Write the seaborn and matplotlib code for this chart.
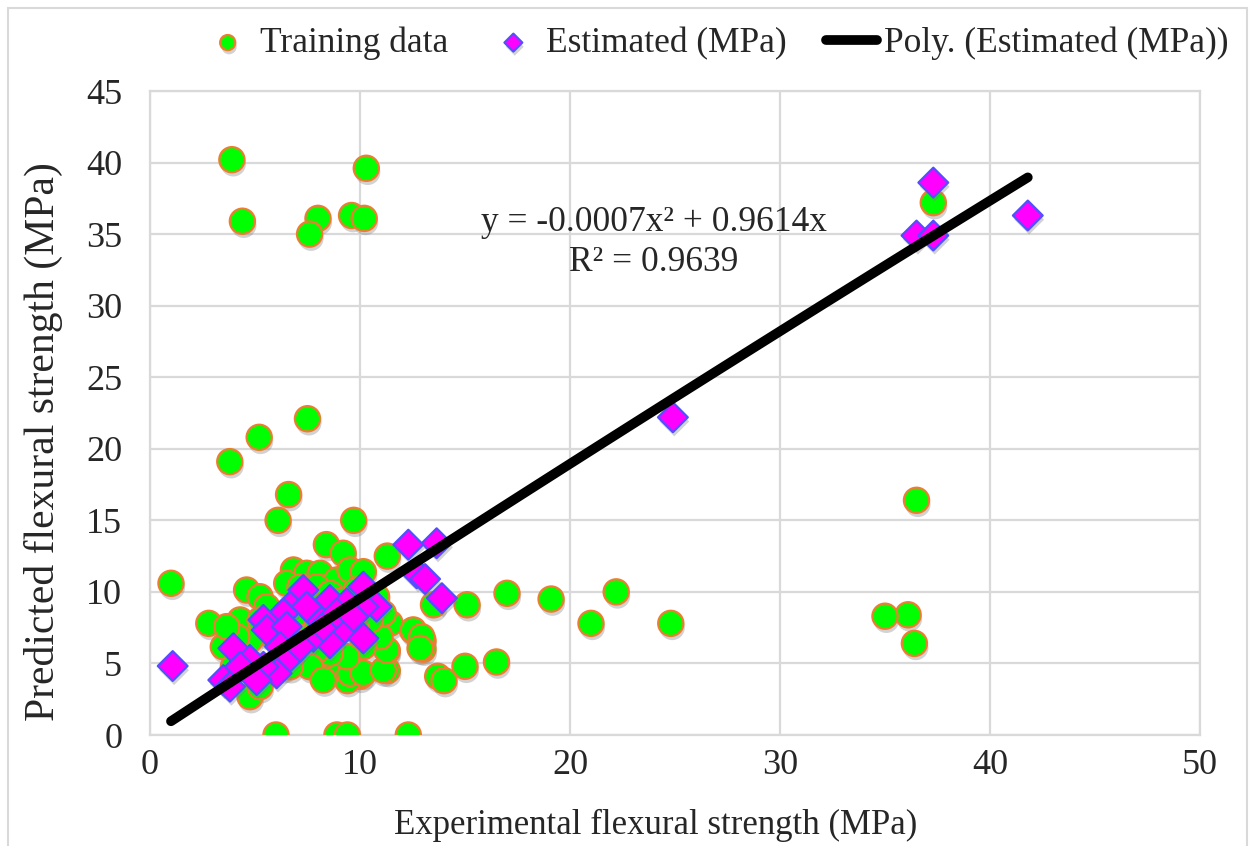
import numpy as np
import pandas as pd
import matplotlib
matplotlib.use("Agg")
import matplotlib.pyplot as plt
import matplotlib.patheffects as pe
from matplotlib.patches import Rectangle
import seaborn as sns

# training data (experimental, predicted)
train_x = [3.9, 4.4, 8.0, 7.6, 9.6, 10.2, 10.3, 37.3,
           7.5, 5.2, 3.8, 6.6, 6.1, 9.7, 8.4, 9.2, 11.3, 36.5,
           1.0, 2.8, 21.0, 24.8, 22.2, 19.1, 17.0, 15.1, 15.0, 16.5,
           13.7, 14.0, 13.0, 13.0, 12.5, 11.3, 11.3, 10.0, 9.4, 13.5,
           6.0, 8.9, 9.4, 12.3, 36.1, 35.0, 36.4,
           6.83, 7.46, 8.10, 8.89, 9.52, 10.16, 4.60, 5.24, 6.51, 7.14,
           7.94, 5.56, 4.29, 3.49, 3.97, 4.76, 8.89, 9.52, 10.16, 11.11,
           11.27, 11.43, 10.95, 10.16, 9.37, 8.57, 7.94, 7.62, 6.67, 5.56,
           4.76, 4.13, 12.54, 12.94, 12.86, 8.57, 9.21, 9.84, 10.79, 11.11,
           6.19, 6.98, 3.65, 5.24, 6.35, 5.24, 7.62, 8.25, 10.48, 9.84,
           8.89, 7.94, 6.67]
train_y = [40.2, 35.9, 36.1, 35.0, 36.3, 36.1, 39.6, 37.2,
           22.1, 20.8, 19.1, 16.8, 15.0, 15.0, 13.3, 12.7, 12.5, 16.4,
           10.6, 7.8, 7.8, 7.8, 10.0, 9.5, 9.9, 9.1, 4.8, 5.1,
           4.1, 3.8, 6.6, 6.0, 7.3, 4.5, 5.9, 4.1, 3.8, 9.1,
           0.0, 0.0, 0.0, 0.0, 8.4, 8.3, 6.4,
           11.53, 11.30, 11.30, 10.83, 11.53, 11.41, 10.13, 9.66, 10.60, 10.36,
           10.36, 8.97, 8.04, 6.17, 4.77, 2.68, 4.77, 4.31, 4.31, 4.54,
           5.94, 7.81, 6.87, 6.17, 5.47, 5.71, 5.94, 6.87, 6.87, 7.11,
           6.64, 6.87, 7.34, 6.87, 6.06, 9.90, 9.43, 10.13, 9.66, 8.50,
           8.04, 8.50, 7.57, 8.04, 4.77, 3.38, 4.77, 3.84, 8.04, 7.34,
           7.57, 8.04, 4.77]

# estimated values (experimental, estimated)
est_x = [1.08, 12.3, 13.65, 12.7, 13.1, 13.9, 3.97, 3.49, 3.81,
         7.30, 6.67, 6.35, 5.40, 5.56, 6.51, 8.57, 9.37, 10.16, 10.79,
         10.16, 9.21, 10.16, 8.57, 7.78, 7.94, 7.46, 6.19, 6.03, 5.40,
         5.08, 4.76, 4.29, 6.67, 7.14, 8.25, 8.89, 9.68,
         24.9, 37.3, 36.5, 37.3, 41.8]
est_y = [4.82, 13.3, 13.4, 11.3, 10.9, 9.56, 6.06, 3.84, 3.38,
         10.13, 8.97, 8.50, 8.04, 7.34, 7.57, 9.43, 9.20, 10.36, 8.97,
         8.97, 7.34, 6.75, 6.41, 6.87, 8.27, 8.97, 6.17, 4.31, 4.77,
         3.84, 5.24, 4.77, 5.47, 6.17, 7.57, 8.50, 8.27,
         22.2, 38.6, 34.9, 34.9, 36.3]

# polynomial trendline y = a*x^2 + b*x
poly_a = -0.0007
poly_b = 0.9614
r2 = 0.9639
fit_range = (1.0, 41.8)

train = pd.DataFrame({"x": train_x, "y": train_y})
est = pd.DataFrame({"x": est_x, "y": est_y})
fit_x = np.linspace(fit_range[0], fit_range[1], 60)
fit = pd.DataFrame({"x": fit_x, "y": poly_a * fit_x ** 2 + poly_b * fit_x})

sns.set_style("white")
plt.rcParams["font.family"] = ["Liberation Serif", "DejaVu Serif"]

fig = plt.figure(figsize=(12.55, 8.46), dpi=100)
ax = fig.add_axes([150 / 1255, 1 - 735 / 846, 1050 / 1255, 644 / 846])

shadow = [pe.SimplePatchShadow(offset=(1, -3), shadow_rgbFace="gray", alpha=0.35), pe.Normal()]

sns.scatterplot(data=train, x="x", y="y", ax=ax, marker="o", s=330,
                color="#00ff00", edgecolor="#ed7d31", linewidth=1.6,
                label="Training data", zorder=3)
sns.scatterplot(data=est, x="x", y="y", ax=ax, marker="D", s=230,
                color="#ff00ff", edgecolor="#5050ff", linewidth=1.6,
                label="Estimated (MPa)", zorder=4)
for coll in ax.collections:
    coll.set_path_effects(shadow)
sns.lineplot(data=fit, x="x", y="y", ax=ax, color="black", linewidth=7,
             solid_capstyle="round", label="Poly. (Estimated (MPa))", zorder=5)

ax.set_xlim(0, 50)
ax.set_ylim(0, 45)
ax.set_xticks(range(0, 51, 10))
ax.set_yticks(range(0, 46, 5))
ax.grid(True, color="#d9d9d9", linewidth=1.6)
ax.set_axisbelow(True)
for s in ax.spines.values():
    s.set_color("#d9d9d9")
    s.set_linewidth(1.6)
ax.tick_params(labelsize=26, length=0)
ax.tick_params(axis="y", pad=20)
ax.tick_params(axis="x", pad=10)
ax.set_xlabel("Experimental flexural strength (MPa)", fontsize=25)
ax.set_ylabel("Predicted flexural strength (MPa)", fontsize=30)
ax.xaxis.set_label_coords(0.482, -0.115)
ax.yaxis.set_label_coords(-0.083, 0.455)

ax.text(24.0, 35.8, "y = -0.0007x² + 0.9614x", fontsize=25.5, ha="center", va="center")
ax.text(24.0, 33.0, f"R² = {r2}", fontsize=25.5, ha="center", va="center")

handles, labels = ax.get_legend_handles_labels()
ax.get_legend().remove()
fig.legend(handles, labels, loc="center", bbox_to_anchor=(0.570, 0.949), ncol=3,
           frameon=False, fontsize=25.5, markerscale=0.6, handlelength=1.45,
           handletextpad=0.2, columnspacing=1.1)

fig.patches.append(Rectangle((8 / 1255, -0.01), 1239 / 1255, 1.01 - 8 / 846,
                             transform=fig.transFigure, fill=False,
                             edgecolor="#d9d9d9", linewidth=1.5))

fig.savefig("out.png", dpi=100)
